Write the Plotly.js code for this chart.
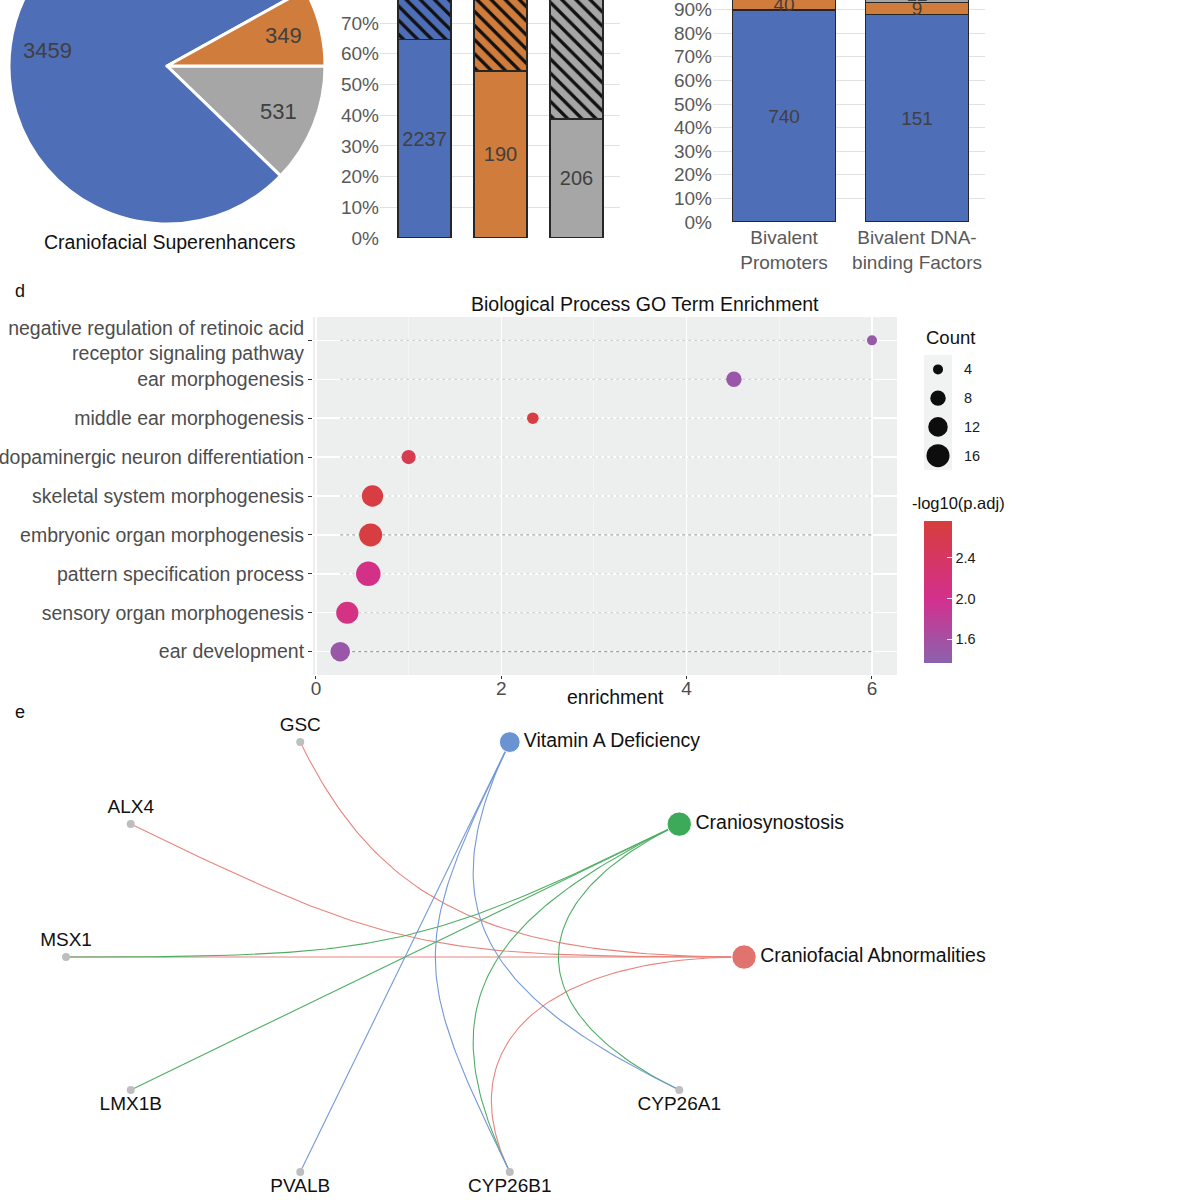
<!DOCTYPE html>
<html>
<head>
<meta charset="utf-8">
<script src="https://cdn.plot.ly/plotly-3.0.1.min.js"></script>
<style>
html,body{margin:0;padding:0;background:#fff;overflow:hidden;}
#chart{position:absolute;left:0;top:-100px;width:1200px;height:1300px;}
</style>
</head>
<body>
<div id="chart"></div>
<script>
// ===================== DATA =====================
// Panel a: pie (drawing order, clockwise from 3 o'clock)
const pieGroups = ['gray group', 'blue group', 'orange group'];
const pieValues = [531, 3459, 349];
const pieCaption = 'Craniofacial Superenhancers';

// Panel b: 100% stacked bars (solid + hatched) per group
const bGroups = ['blue group', 'orange group', 'gray group'];
const bSolid = [2237, 190, 206];
const bHatched = [1222, 159, 325];

// Panel c: 100% stacked bars
const cCategories = ['Bivalent<br>Promoters', 'Bivalent DNA-<br>binding Factors'];
const cBlue = [740, 151];
const cOrange = [40, 9];
const cGray = [44, 12];

// Panel d: GO term enrichment (top to bottom)
const goTitle = 'Biological Process GO Term Enrichment';
const goTerms = [
  'negative regulation of retinoic acid<br>receptor signaling pathway',
  'ear morphogenesis',
  'middle ear morphogenesis',
  'dopaminergic neuron differentiation',
  'skeletal system morphogenesis',
  'embryonic organ morphogenesis',
  'pattern specification process',
  'sensory organ morphogenesis',
  'ear development'
];
const goEnrichment = [6.0, 4.51, 2.34, 1.0, 0.61, 0.59, 0.565, 0.338, 0.262];
const goCount = [4, 8, 5, 7, 14, 16, 18, 15, 12];
const goNegLogPadj = [1.45, 1.5, 2.72, 2.58, 2.7, 2.72, 2.05, 2.1, 1.5];
const countLegend = [4, 8, 12, 16];
const colorbarTicks = [1.6, 2.0, 2.4];

// Panel e: gene-disease network (circular layout positions)
const nodeNames = ['Craniofacial Abnormalities', 'Craniosynostosis', 'Vitamin A Deficiency',
  'GSC', 'ALX4', 'MSX1', 'LMX1B', 'PVALB', 'CYP26B1', 'CYP26A1'];
const nodeX = [1, 0.809, 0.309, -0.309, -0.809, -1, -0.809, -0.309, 0.309, 0.809];
const nodeY = [0, 0.588, 0.951, 0.951, 0.588, 0, -0.588, -0.951, -0.951, -0.588];
const diseaseGenes = {
  'Craniofacial Abnormalities': ['GSC', 'ALX4', 'MSX1', 'CYP26B1'],
  'Craniosynostosis': ['MSX1', 'LMX1B', 'CYP26B1', 'CYP26A1'],
  'Vitamin A Deficiency': ['PVALB', 'CYP26B1', 'CYP26A1']
};

// ===================== STYLE / LAYOUT HELPERS =====================
const W = 1200, H = 1300, OFF = 100;
const fx = p => p / W;
const fy = p => 1 - (p + OFF) / H;
const FONT = 'Liberation Sans, Arial, Helvetica, sans-serif';
const BLUE = '#4F6EB8', ORANGE = '#D07C3C', GRAY = '#A6A6A6';
const groupColor = {'blue group': BLUE, 'orange group': ORANGE, 'gray group': GRAY};
const diseaseNodeColor = {'Craniofacial Abnormalities': '#E0736E', 'Craniosynostosis': '#3DAA5A', 'Vitamin A Deficiency': '#6A93D1'};
const diseaseEdgeColor = {'Craniofacial Abnormalities': '#E8847E', 'Craniosynostosis': '#4DAE63', 'Vitamin A Deficiency': '#7399D6'};
const darkSegRows = ['embryonic organ morphogenesis', 'ear development'];

const traces = [];
const annotations = [];
const shapes = [];
function note(px, py, text, size, opts) {
  annotations.push(Object.assign({xref: 'paper', yref: 'paper', x: fx(px), y: fy(py), text: text,
    showarrow: false, xanchor: 'center', yanchor: 'middle', font: {size: size, color: '#111'}}, opts || {}));
}

// ---------- Panel a: pie ----------
const PIE_CX = 167, PIE_CY = 66, PIE_R = 158;
traces.push({
  type: 'pie', labels: pieGroups, values: pieValues, sort: false,
  direction: 'clockwise', rotation: 90,
  marker: {colors: pieGroups.map(g => groupColor[g]), line: {color: '#ffffff', width: 3}},
  textinfo: 'none', hoverinfo: 'skip', showlegend: false,
  domain: {x: [fx(PIE_CX - PIE_R), fx(PIE_CX + PIE_R)], y: [fy(PIE_CY + PIE_R), fy(PIE_CY - PIE_R)]}
});
(function () {
  const tot = pieValues.reduce((a, b) => a + b, 0);
  let acc = 0;
  pieValues.forEach(v => {
    const a0 = 90 + acc / tot * 360; acc += v;
    const a1 = 90 + acc / tot * 360;
    const mid = (a0 + a1) / 2 * Math.PI / 180;
    const r = 0.76 * PIE_R;
    note(PIE_CX + r * Math.sin(mid), PIE_CY - r * Math.cos(mid), String(v), 22, {font: {size: 22, color: '#404040'}});
  });
})();
note(170, 242, pieCaption, 19.5);

// ---------- Panel b ----------
traces.push({
  type: 'bar', x: bGroups.map((g, i) => i), y: bSolid, xaxis: 'x', yaxis: 'y', width: 0.70,
  marker: {color: bGroups.map(g => groupColor[g]), line: {color: '#262626', width: 1.5}},
  text: bSolid.map(String), textposition: 'inside', insidetextanchor: 'middle', textangle: 0,
  constraintext: 'none', insidetextfont: {size: 20, color: '#404040'}, hoverinfo: 'skip', showlegend: false
});
bGroups.forEach((g, i) => {
  traces.push({
    type: 'bar', x: [i], y: [bHatched[i]], xaxis: 'x', yaxis: 'y', width: 0.70,
    marker: {color: groupColor[g], line: {color: '#262626', width: 1.5},
      pattern: {shape: '\\', fgcolor: '#111111', bgcolor: groupColor[g], size: 10, solidity: 0.33, fillmode: 'replace'}},
    hoverinfo: 'skip', showlegend: false
  });
});

// ---------- Panel c ----------
[[cBlue, BLUE], [cOrange, ORANGE], [cGray, GRAY]].forEach(([vals, col]) => {
  traces.push({
    type: 'bar', x: cCategories, y: vals, xaxis: 'x2', yaxis: 'y2', width: 0.774,
    marker: {color: col, line: {color: '#262626', width: 1.2}},
    text: vals.map(String), textposition: 'inside', insidetextanchor: 'middle', textangle: 0,
    constraintext: 'none', insidetextfont: {size: 19, color: '#404040'}, hoverinfo: 'skip', showlegend: false
  });
});

// ---------- Panel d ----------
const eMin = Math.min(...goEnrichment), eMax = Math.max(...goEnrichment);
function segTrace(rows, color) {
  const xs = [], ys = [];
  rows.forEach(t => { xs.push(eMin, eMax, null); ys.push(t, t, null); });
  return {type: 'scatter', mode: 'lines', x: xs, y: ys, xaxis: 'x3', yaxis: 'y3',
    line: {color: color, width: 1, dash: '3px,3px'}, hoverinfo: 'skip', showlegend: false};
}
traces.push(segTrace(goTerms.filter(t => !darkSegRows.includes(t)), '#C9C9C9'));
traces.push(segTrace(goTerms.filter(t => darkSegRows.includes(t)), '#8F8F8F'));
const sizeOf = c => 6.5 * Math.sqrt(c) - 3;
const CMIN = 1.363, CMAX = 2.765;
const cscale = [[0, '#8B62AE'], [0.454, '#D3308D'], [1, '#D73E3C']];
traces.push({
  type: 'scatter', mode: 'markers', x: goEnrichment, y: goTerms, xaxis: 'x3', yaxis: 'y3',
  marker: {size: goCount.map(sizeOf), color: goNegLogPadj, colorscale: cscale, cmin: CMIN, cmax: CMAX,
    line: {width: 0}, opacity: 1, showscale: true,
    colorbar: {x: fx(924), xanchor: 'left', xpad: 0, ypad: 0, y: fy(592), yanchor: 'middle',
      len: 142, lenmode: 'pixels', thickness: 28, thicknessmode: 'pixels', outlinewidth: 0,
      tickvals: colorbarTicks, ticktext: colorbarTicks.map(v => v.toFixed(1)), ticks: 'inside',
      tickcolor: 'rgba(255,255,255,0.9)', ticklen: 5, tickfont: {size: 14.5, color: '#1a1a1a'}}},
  hoverinfo: 'skip', showlegend: false
});
shapes.push({type: 'rect', xref: 'paper', yref: 'paper', x0: fx(313), x1: fx(897), y0: fy(675), y1: fy(317),
  fillcolor: '#EDEFEE', line: {width: 0}, layer: 'below'});
note(645, 304, goTitle, 19.5);
note(615, 697, 'enrichment', 19.5);
// Count legend
const KEY_TOP = 355, KEY_BOT = 470;
shapes.push({type: 'rect', xref: 'paper', yref: 'paper', x0: fx(924), x1: fx(952), y0: fy(KEY_BOT), y1: fy(KEY_TOP),
  fillcolor: '#F1F2F2', line: {width: 0}, layer: 'below'});
traces.push({
  type: 'scatter', mode: 'markers', x: countLegend.map(() => 0), y: countLegend.map((c, i) => i),
  xaxis: 'x4', yaxis: 'y4', marker: {size: countLegend.map(sizeOf), color: '#0d0d0d', opacity: 1, line: {width: 0}},
  hoverinfo: 'skip', showlegend: false
});
const keyStep = (KEY_BOT - KEY_TOP) / countLegend.length;
countLegend.forEach((c, i) => note(962, KEY_TOP + (i + 0.5) * keyStep, String(c), 14.5, {xanchor: 'left', font: {size: 14.5, color: '#1a1a1a'}}));
note(924, 338, 'Count', 18.5, {xanchor: 'left'});
note(910, 503, '-log10(p.adj)', 16.5, {xanchor: 'left'});

// ---------- Panel e: network ----------
const pos = {};
nodeNames.forEach((n, i) => pos[n] = [nodeX[i], nodeY[i]]);
// cubic Bezier whose handles point toward the layout centre
function curve(p0, p1) {
  const mx = (p0[0] + p1[0]) / 2, my = (p0[1] + p1[1]) / 2;
  const m = Math.hypot(mx, my);
  const s = Math.min(1, 1.17 - 0.72 * m);
  const c0 = [p0[0] * (1 - s), p0[1] * (1 - s)], c1 = [p1[0] * (1 - s), p1[1] * (1 - s)];
  const xs = [], ys = [];
  for (let k = 0; k <= 80; k++) {
    const t = k / 80, a = (1 - t) ** 3, b = 3 * t * (1 - t) ** 2, c = 3 * t * t * (1 - t), d = t ** 3;
    xs.push(a * p0[0] + b * c0[0] + c * c1[0] + d * p1[0]);
    ys.push(a * p0[1] + b * c0[1] + c * c1[1] + d * p1[1]);
  }
  return [xs, ys];
}
Object.keys(diseaseGenes).forEach(d => {
  const xs = [], ys = [];
  diseaseGenes[d].forEach(g => {
    const [cx, cy] = curve(pos[d], pos[g]);
    xs.push(...cx, null); ys.push(...cy, null);
  });
  traces.push({type: 'scatter', mode: 'lines', x: xs, y: ys, xaxis: 'x5', yaxis: 'y5',
    line: {color: diseaseEdgeColor[d], width: 1.1}, hoverinfo: 'skip', showlegend: false});
});
const diseases = Object.keys(diseaseGenes);
const genes = nodeNames.filter(n => !diseases.includes(n));
traces.push({
  type: 'scatter', mode: 'markers+text', x: genes.map(g => pos[g][0]), y: genes.map(g => pos[g][1]),
  xaxis: 'x5', yaxis: 'y5', text: genes,
  textposition: genes.map(g => pos[g][1] >= 0 ? 'top center' : 'bottom center'),
  textfont: {size: 19, color: '#111'}, marker: {size: 8, color: '#BEBEBE', opacity: 1}, cliponaxis: false,
  hoverinfo: 'skip', showlegend: false
});
traces.push({
  type: 'scatter', mode: 'markers+text', x: diseases.map(d => pos[d][0]), y: diseases.map(d => pos[d][1]),
  xaxis: 'x5', yaxis: 'y5', text: diseases, textposition: 'middle right',
  textfont: {size: 19.5, color: '#111'},
  marker: {size: diseases.map(d => 10 + 3.6 * diseaseGenes[d].length), color: diseases.map(d => diseaseNodeColor[d]), opacity: 1},
  cliponaxis: false, hoverinfo: 'skip', showlegend: false
});

note(20, 291, 'd', 18);
note(20, 712, 'e', 18);

// ===================== LAYOUT =====================
const hidden = {showgrid: false, zeroline: false, showline: false, showticklabels: false, ticks: '', fixedrange: true};
const pctAxis = (domain) => ({domain: domain, range: [0, 100], dtick: 10, ticksuffix: '%', showgrid: true,
  gridcolor: '#E2E2E2', gridwidth: 1, zeroline: false, showline: false, ticks: '',
  tickfont: {size: 19, color: '#595959'}, fixedrange: true});

const layout = {
  width: W, height: H, margin: {l: 0, r: 0, t: 0, b: 0},
  paper_bgcolor: '#ffffff', plot_bgcolor: 'rgba(0,0,0,0)',
  font: {family: FONT, color: '#111'},
  showlegend: false, hovermode: false, barmode: 'stack', barnorm: 'percent',
  xaxis: Object.assign({}, hidden, {domain: [fx(380), fx(620)], range: [-0.586, 2.572], anchor: 'y'}),
  yaxis: Object.assign(pctAxis([fy(238), fy(-69)]), {anchor: 'x'}),
  xaxis2: {domain: [fx(713), fx(985)], range: [-0.534, 1.511], type: 'category', anchor: 'y2',
    showgrid: false, zeroline: false, showline: false, ticks: '', tickfont: {size: 19, color: '#595959'},
    ticklabelstandoff: 2, fixedrange: true},
  yaxis2: Object.assign(pctAxis([fy(222), fy(-14)]), {anchor: 'x2'}),
  xaxis3: {domain: [fx(313), fx(897)], range: [-0.032, 6.27], anchor: 'y3', tick0: 0, dtick: 2,
    showgrid: true, gridcolor: '#ffffff', gridwidth: 1.4, zeroline: false, showline: false,
    minor: {dtick: 1, showgrid: true, gridcolor: '#F8F8F8', gridwidth: 0.7},
    ticks: 'outside', ticklen: 3, tickcolor: '#333', tickwidth: 1, tickfont: {size: 19, color: '#4D4D4D'},
    ticklabelstandoff: -7, fixedrange: true},
  yaxis3: {domain: [fy(675), fy(317)], type: 'category', categoryorder: 'array', categoryarray: goTerms.slice().reverse(),
    range: [-0.6, 8.6], anchor: 'x3', showgrid: true, gridcolor: '#ffffff', gridwidth: 1.4, zeroline: false,
    showline: false, ticks: 'outside', ticklen: 4, tickcolor: '#333', tickwidth: 1,
    tickfont: {size: 19.5, color: '#4D4D4D'}, fixedrange: true},
  xaxis4: Object.assign({}, hidden, {domain: [fx(924), fx(952)], range: [-0.5, 0.5], anchor: 'y4'}),
  yaxis4: Object.assign({}, hidden, {domain: [fy(KEY_BOT), fy(KEY_TOP)], range: [3.5, -0.5], anchor: 'x4'}),
  xaxis5: Object.assign({}, hidden, {domain: [0, 1], range: [-1.1947, 2.345], anchor: 'y5'}),
  yaxis5: Object.assign({}, hidden, {domain: [fy(1200), fy(705)], range: [-1.075, 1.115], anchor: 'x5'}),
  annotations: annotations, shapes: shapes
};

Plotly.newPlot('chart', traces, layout, {displayModeBar: false, staticPlot: true});
</script>
</body>
</html>
